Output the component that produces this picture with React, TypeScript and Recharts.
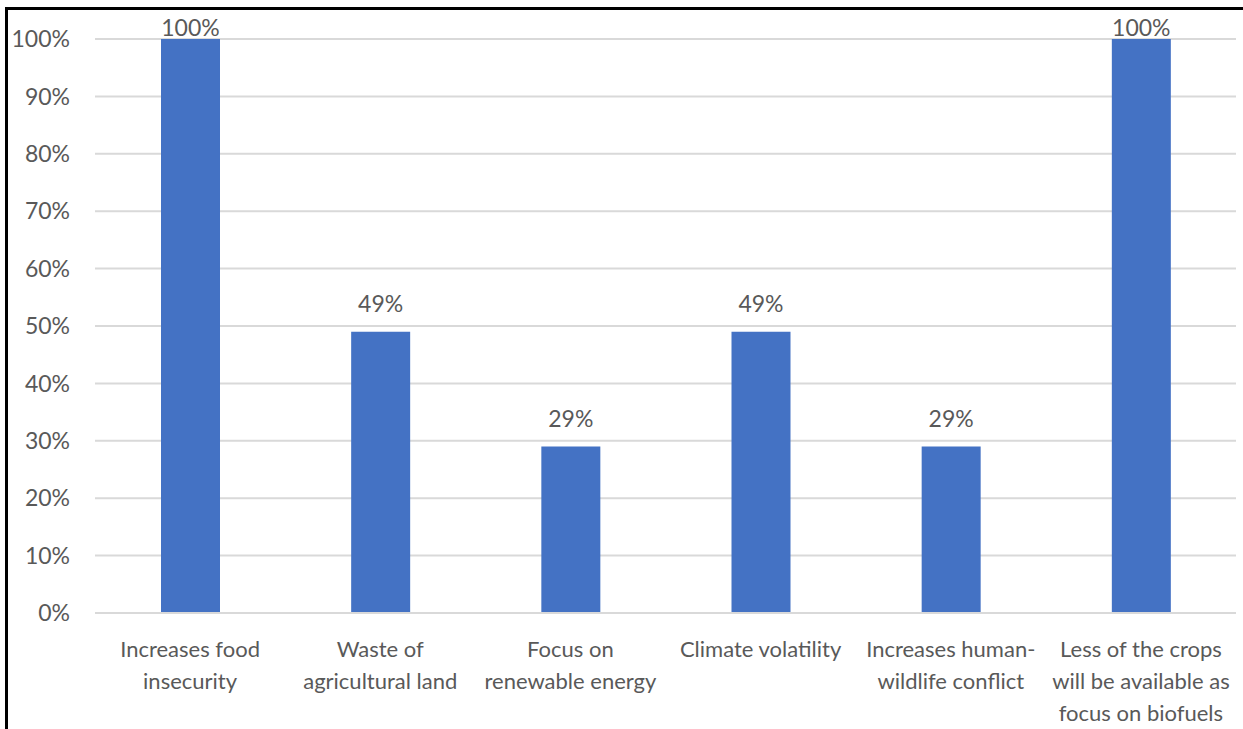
import { Bar, BarChart, CartesianGrid, LabelList, XAxis, YAxis } from "recharts";

const CATEGORIES = [
  "Increases food\ninsecurity",
  "Waste of\nagricultural land",
  "Focus on\nrenewable energy",
  "Climate volatility",
  "Increases human-\nwildlife conflict",
  "Less of the crops\nwill be available as\nfocus on biofuels",
];

const VALUES = [1, 0.49, 0.29, 0.49, 0.29, 1];

const Y_TICKS = [0, 0.1, 0.2, 0.3, 0.4, 0.5, 0.6, 0.7, 0.8, 0.9, 1];

const FONT = "Lato, 'Open Sans', sans-serif";
const TEXT = "#595959";
const TOP = 39;

const data = CATEGORIES.map((name, i) => ({ name, value: VALUES[i] }));

const pct = (v: number) => `${Math.round(v * 100)}%`;

function CategoryTick({ x, y, payload }: any) {
  const lines = String(payload.value).split("\n");
  return (
    <text x={x} y={y} textAnchor="middle" fill={TEXT} fontSize={22} fontFamily={FONT}>
      {lines.map((line, i) => (
        <tspan key={i} x={x} dy={i === 0 ? 44 : 32}>
          {line}
        </tspan>
      ))}
    </text>
  );
}

function ValueLabel({ x, y, width, value }: any) {
  // like Excel, labels that would leave the plot get pushed down onto the bar
  const base = Math.max(y - 20, TOP - 3);
  return (
    <text x={x + width / 2} y={base} textAnchor="middle" fill={TEXT} fontSize={23} fontFamily={FONT}>
      {pct(value)}
    </text>
  );
}

export default function App() {
  return (
    <div
      style={{
        position: "absolute",
        left: 0,
        top: 0,
        width: 1243,
        height: 729,
        background: "#fff",
        overflow: "hidden",
      }}
    >
      <BarChart
        width={1243}
        height={729}
        data={data}
        margin={{ top: TOP, right: 7, bottom: 0, left: 0 }}
      >
        <CartesianGrid vertical={false} stroke="#D9D9D9" strokeWidth={2} />
        <XAxis
          dataKey="name"
          height={116}
          interval={0}
          tickLine={false}
          tickSize={0}
          tickMargin={0}
          axisLine={{ stroke: "#D9D9D9", strokeWidth: 2 }}
          tick={<CategoryTick />}
        />
        <YAxis
          width={95}
          domain={[0, 1]}
          ticks={Y_TICKS}
          tickFormatter={pct}
          axisLine={false}
          tickLine={false}
          tickSize={0}
          tickMargin={25}
          tick={{ fill: TEXT, fontSize: 23, fontFamily: FONT }}
        />
        <Bar dataKey="value" fill="#4472C4" barSize={59} isAnimationActive={false}>
          <LabelList dataKey="value" content={<ValueLabel />} />
        </Bar>
      </BarChart>
      <div
        style={{
          position: "absolute",
          left: 5,
          top: 7,
          width: 1240,
          height: 730,
          borderTop: "3px solid #000",
          borderLeft: "3px solid #000",
          pointerEvents: "none",
        }}
      />
    </div>
  );
}
